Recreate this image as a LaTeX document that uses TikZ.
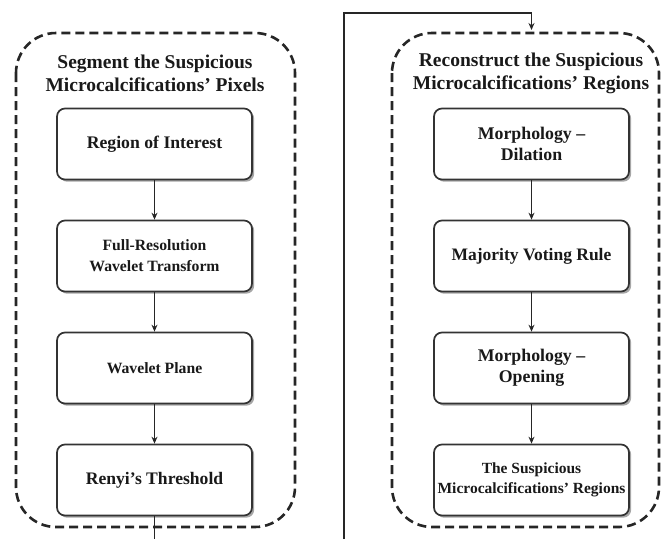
\documentclass[tikz,border=0pt]{standalone}
\usepackage{fontspec}
\setmainfont{Liberation Serif}
\usetikzlibrary{arrows.meta,shadows}

\newcommand{\fsz}[2]{\fontsize{#1}{#2}\selectfont}

\tikzset{
  stagebox/.style={draw=black!80, line width=1.7pt, fill=white,
    rounded corners=8pt, minimum width=195pt, minimum height=71pt,
    align=center, font=\bfseries, text=black!90, inner sep=2pt,
    drop shadow={shadow xshift=2.2pt, shadow yshift=-2.2pt, fill=black!50, opacity=0.7}},
  groupbox/.style={draw=black!85, line width=2.6pt, dash pattern=on 9pt off 5pt,
    rounded corners=40pt},
  grouptitle/.style={align=center, font=\bfseries\fsz{19.5}{23}, text=black!90},
  flow/.style={draw=black!85, line width=1.6pt,
    -{Stealth[length=7pt,width=6pt]}},
  link/.style={draw=black!85, line width=1.6pt}
}

\begin{document}
\begin{tikzpicture}[x=1pt,y=-1pt]
  \useasboundingbox (0,0) rectangle (664,539);

  % dashed group outlines
  \draw[groupbox] (16,33) rectangle (295,527);
  \draw[groupbox] (392,33) rectangle (659,527);

  % group headings
  \node[grouptitle] (tl) at (155,73.5) {Segment the Suspicious\\Microcalcifications' Pixels};
  \node[grouptitle] (tr) at (531,73.5) {Reconstruct the Suspicious\\Microcalcifications' Regions};

  % segmentation stages
  \node[stagebox, font=\bfseries\fsz{17.7}{21}] (roi) at (154.5,144) {Region of Interest};
  \node[stagebox, font=\bfseries\fsz{15.7}{21}] (fwt) at (154.5,256) {Full-Resolution\\Wavelet Transform};
  \node[stagebox, font=\bfseries\fsz{15.7}{21}] (wp)  at (154.5,368) {Wavelet Plane};
  \node[stagebox, font=\bfseries\fsz{17.6}{21}] (rt)  at (154.5,480) {Renyi's Threshold};

  % reconstruction stages
  \node[stagebox, font=\bfseries\fsz{17.8}{21}] (dil) at (531.5,144) {Morphology --\\Dilation};
  \node[stagebox, font=\bfseries\fsz{17.5}{21}] (mvr) at (531.5,256) {Majority Voting Rule};
  \node[stagebox, font=\bfseries\fsz{17.8}{21}] (opn) at (531.5,368) {Morphology --\\Opening};
  \node[stagebox, font=\bfseries\fsz{15.5}{20}] (out) at (531.5,480) {The Suspicious\\Microcalcifications' Regions};

  % arrows inside the groups
  \draw[flow] (roi) -- (fwt);
  \draw[flow] (fwt) -- (wp);
  \draw[flow] (wp) -- (rt);
  \draw[flow] (dil) -- (mvr);
  \draw[flow] (mvr) -- (opn);
  \draw[flow] (opn) -- (out);

  % connection between the two groups
  \coordinate (exitL) at (154.5,539);
  \coordinate (enterR) at (344,539);
  \coordinate (topR) at (531.5,30);
  \draw[link] (rt.south) -- (exitL);
  \draw[flow] (enterR) |- (531.5,13) -- (topR);
\end{tikzpicture}
\end{document}
